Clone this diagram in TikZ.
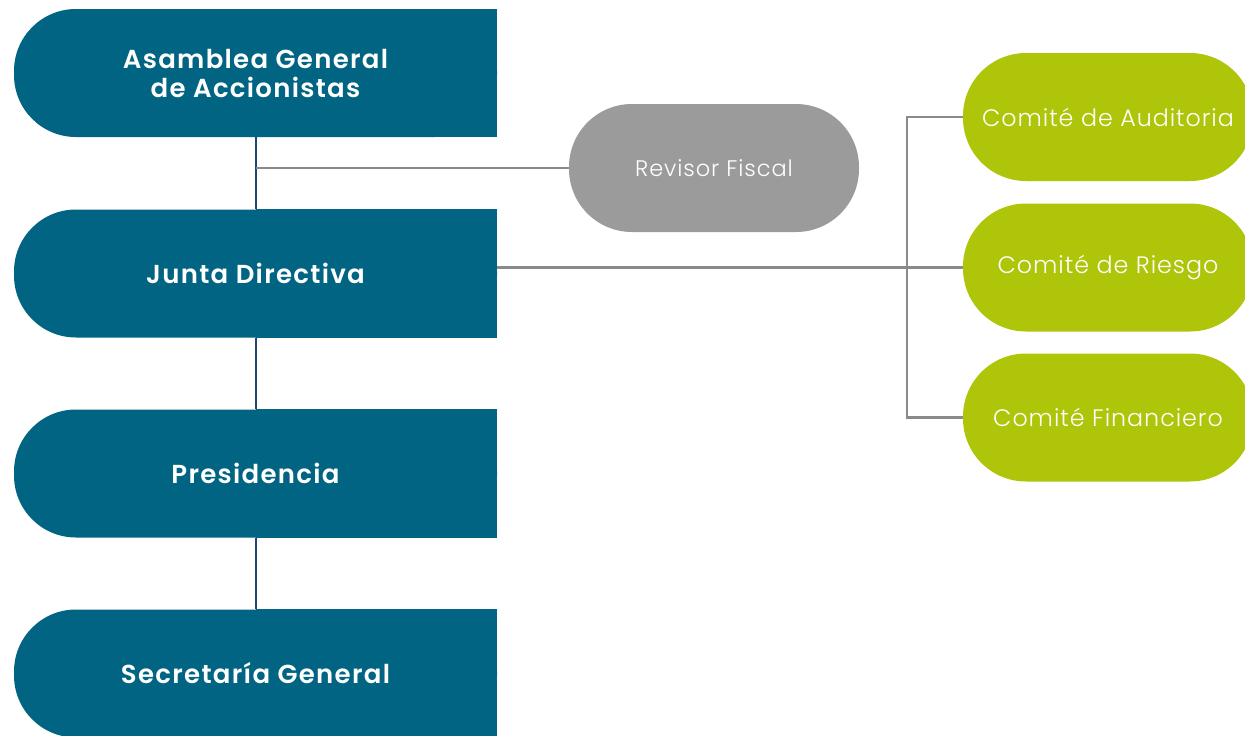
\documentclass[tikz,border=0pt]{standalone}
\usepackage{fontspec}
\setmainfont{Poppins}
\newfontfamily\semib{Poppins SemiBold}[LetterSpace=5]
\newfontfamily\lightf{Poppins Light}[LetterSpace=4]
\usetikzlibrary{backgrounds}
\definecolor{blueC}{RGB}{0,100,130}
\definecolor{greenC}{RGB}{174,197,9}
\definecolor{grayC}{RGB}{155,155,155}
\definecolor{lineG}{RGB}{138,138,138}
\definecolor{lineB}{RGB}{30,70,110}
\tikzset{
  bluebox/.style={fill=blueC, rounded corners=62pt, minimum width=483pt, minimum height=128pt,
    text=white, align=center, inner sep=0pt, font=\semib\fontsize{26}{29}\selectfont},
  greenbox/.style={fill=greenC, rounded corners=63pt, minimum width=290pt, minimum height=128pt,
    text=white, inner sep=0pt, font=\lightf\fontsize{23.8}{26}\selectfont},
  graybox/.style={fill=grayC, rounded corners=63pt, minimum width=290pt, minimum height=128pt,
    text=white, inner sep=0pt, font=\lightf\fontsize{22.5}{26}\selectfont},
  bline/.style={draw=lineB, line width=2pt},
  gline/.style={draw=lineG, line width=2.2pt}
}
\begin{document}
\begin{tikzpicture}[x=1pt,y=-1pt]
\useasboundingbox (0,0) rectangle (1245,736);
\clip (0,0) rectangle (1245,736);
\node[bluebox] (ag) at (255.5,73) {Asamblea General\\de Accionistas};
\node[bluebox] (jd) at (255.5,273.5) {Junta Directiva};
\node[bluebox] (pr) at (255.5,473.5) {Presidencia};
\node[bluebox] (sg) at (255.5,673.5) {Secretaría General};
\begin{scope}[on background layer]
  \foreach \n in {ag,jd,pr,sg}{\fill[blueC] (\n.north) rectangle (\n.south east);}
\end{scope}
\node[graybox] (rf) at (714,168) {Revisor Fiscal};
\node[greenbox] (ca) at (1108,117) {Comité de Auditoria};
\node[greenbox] (cr) at (1108,267.5) {Comité de Riesgo};
\node[greenbox] (cf) at (1108,417.5) {Comité Financiero};
\coordinate (bx) at (907,0);
\draw[bline] (ag.south) -- (jd.north);
\draw[bline] (jd.south) -- (pr.north);
\draw[bline] (pr.south) -- (sg.north);
\draw[gline] (ag.south |- rf.west) -- (rf.west);
\draw[gline] (jd.east |- cr.west) -- (cr.west);
\draw[gline] (ca.west) -- (ca.west -| bx) -- (cf.west -| bx) -- (cf.west);
\end{tikzpicture}
\end{document}
